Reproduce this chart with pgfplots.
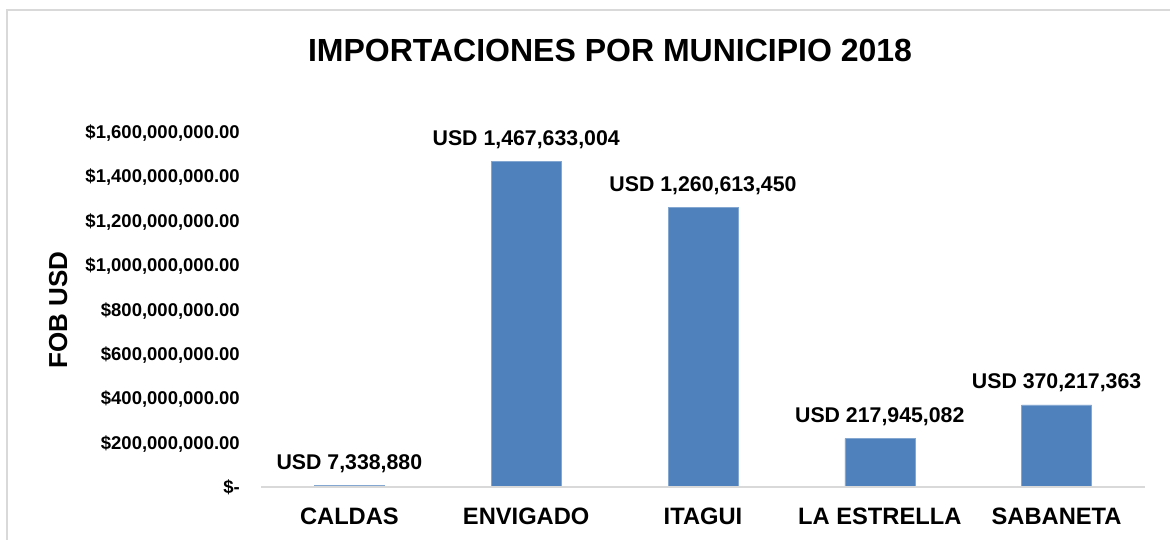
\documentclass[border=0pt]{standalone}
\usepackage{fontspec}
\setmainfont{Liberation Sans}
\usepackage{pgfplots}
\pgfplotsset{compat=1.18}
\definecolor{barblue}{HTML}{4F81BD}
\definecolor{framegray}{HTML}{D9D9D9}
\begin{document}
\begin{tikzpicture}[x=1pt,y=1pt]
\path[use as bounding box,fill=white] (0,0) rectangle (1170,540);
\draw[framegray,line width=1.6pt] (7,-5) -- (7,530) -- (1175,530);
\node[anchor=base,inner sep=0pt,font=\fontsize{32}{38}\selectfont\bfseries] at (610,478) {IMPORTACIONES POR MUNICIPIO 2018};
\node[anchor=base,inner sep=0pt,rotate=90,font=\fontsize{26}{30}\selectfont\bfseries] at (67,230) {FOB USD};
\begin{axis}[
  at={(261pt,53pt)}, anchor=south west,
  scale only axis, width=884pt, height=355pt,
  xmin=-0.5, xmax=4.5, ymin=0, ymax=1600000000,
  axis line style={draw=none},
  major tick length=0pt,
  scaled ticks=false,
  xtick={0,1,2,3,4},
  xticklabels={CALDAS,ENVIGADO,ITAGUI,LA ESTRELLA,SABANETA},
  ytick={0,200000000,400000000,600000000,800000000,1000000000,1200000000,1400000000,1600000000},
  yticklabels={{\$-\hspace{11pt}},{\$200,000,000.00},{\$400,000,000.00},{\$600,000,000.00},{\$800,000,000.00},{\$1,000,000,000.00},{\$1,200,000,000.00},{\$1,400,000,000.00},{\$1,600,000,000.00}},
  yticklabel style={font=\fontsize{18.5}{22}\selectfont\bfseries, anchor=base east, inner sep=0pt, xshift=-21pt, yshift=-6.6pt},
  xticklabel style={font=\fontsize{23.7}{28}\selectfont\bfseries, anchor=base, inner sep=0pt, yshift=-38pt},
  xtick style={draw=none}, ytick style={draw=none},
  clip=false,
  nodes near coords,
  point meta=explicit symbolic,
  every node near coord/.append style={font=\fontsize{21.3}{25}\selectfont\bfseries, anchor=base, inner sep=0pt, yshift=16pt, text=black},
]
\addplot[ybar, bar width=70pt, fill=barblue, draw=barblue!70!white, line width=0.6pt] coordinates {
  (0,7338880) [USD 7,338,880]
  (1,1467633004) [USD 1,467,633,004]
  (2,1260613450) [USD 1,260,613,450]
  (3,217945082) [USD 217,945,082]
  (4,370217363) [USD 370,217,363]
};
\draw[framegray,line width=1.5pt] (axis cs:-0.5,0) -- (axis cs:4.5,0);
\end{axis}
\end{tikzpicture}
\end{document}
